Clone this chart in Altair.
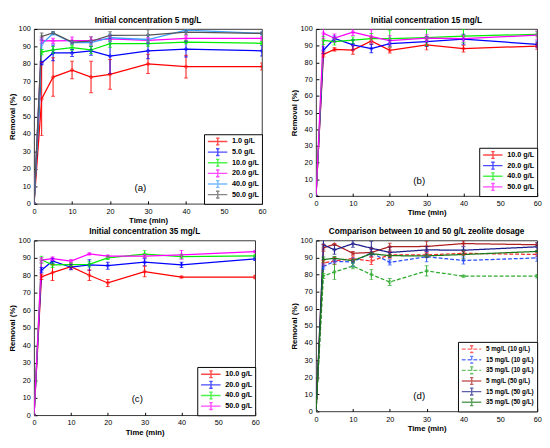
import altair as alt
import pandas as pd

times = [0, 2, 5, 10, 15, 20, 30, 40, 60]

# Panel (a): initial concentration 5 mg/L
a_labels = ["1.0 g/L", "5.0 g/L", "10.0 g/L", "20.0 g/L", "40.0 g/L", "50.0 g/L"]
a_vals = [
    [0, 60, 72.5, 76.5, 72.5, 74, 80, 78.5, 78.5],
    [0, 80.5, 86.3, 86.3, 87.5, 84.5, 87.5, 88.5, 87.5],
    [0, 86.8, 88, 89.4, 88, 91.6, 91.6, 92.5, 91.8],
    [0, 93.3, 93.2, 93.4, 93.5, 94.3, 93.5, 94.6, 94.6],
    [0, 91.2, 97.5, 92.2, 92.2, 95, 94, 99.3, 97.5],
    [0, 95.7, 97.8, 92.5, 93, 96.4, 96.5, 98.2, 97.5],
]
a_errs = [
    [0, 21, 11, 5, 9, 8.5, 5.5, 6.5, 2],
    [0, 1, 4.5, 2, 2.5, 10, 4.5, 4.5, 3],
    [0, 1.5, 2, 1.5, 2, 2, 1.5, 1, 1],
    [0, 1.5, 1.5, 2, 2, 1.5, 1.5, 1.5, 1],
    [0, 3, 1, 1, 1, 2, 2.5, 1, 1],
    [0, 2, 0.5, 1, 2.5, 2, 3, 1.5, 0.5],
]
a_colors = ["#ff0000", "#0000ff", "#00ee00", "#ff00ff", "#3ea0ff", "#555555"]

# Panel (b): initial concentration 15 mg/L
b_labels = ["10.0 g/L", "20.0 g/L", "40.0 g/L", "50.0 g/L"]
b_vals = [
    [0, 84.8, 87.8, 87.4, 92.8, 87.2, 90.5, 88.3, 89.8],
    [0, 87.3, 94.3, 90.5, 88.3, 91.3, 92.5, 93.9, 90.8],
    [0, 93.2, 92.4, 93.3, 94.3, 94.2, 94.9, 95.8, 96.8],
    [0, 97.5, 94.5, 98.1, 95.5, 93, 94.5, 94.3, 96.3],
]
b_errs = [
    [0, 1.5, 1, 2.5, 2, 1.5, 3, 2, 2],
    [0, 2, 1.5, 3, 2.5, 2, 3, 3, 2],
    [0, 2.5, 2, 2, 3, 5, 5, 4, 1.5],
    [0, 3, 2.5, 2, 4, 3, 2, 2, 2.5],
]
b_colors = ["#ff0000", "#0000ff", "#00ee00", "#ff00ff"]

# Panel (c): initial concentration 35 mg/L
c_labels = ["10.0 g/L", "20.0 g/L", "40.0 g/L", "50.0 g/L"]
c_vals = [
    [0, 79.2, 81.6, 85, 80.1, 75.7, 82.2, 79.1, 79.1],
    [0, 83, 88.3, 84.7, 86, 85.6, 87.6, 86.1, 89.5],
    [0, 89, 86, 86.2, 86.3, 90.1, 92.2, 90.8, 91.2],
    [0, 88.8, 89.6, 88.2, 92.3, 91.1, 91, 91.8, 93.6],
]
c_errs = [
    [0, 1.5, 4.5, 1.5, 3, 2, 3, 0.5, 1],
    [0, 1.5, 1.5, 1.5, 3, 2, 2, 1.5, 1],
    [0, 2, 1.5, 1, 1.5, 1, 2, 1, 1],
    [0, 1.5, 1, 1, 0.5, 0.5, 1, 2.5, 0.5],
]
c_colors = ["#ff0000", "#0000ff", "#00ee00", "#ff00ff"]

# Panel (d): comparison between 10 and 50 g/L zeolite dosage
d_labels = ["5 mg/L (10 g/L)", "15 mg/L (10 g/L)", "35 mg/L (10 g/L)",
            "5 mg/L (50 g/L)", "15 mg/L (50 g/L)", "35 mg/L (50 g/L)"]
d_vals = [a_vals[2], b_vals[0], c_vals[0], a_vals[5], b_vals[3], c_vals[3]]
d_errs = [a_errs[2], b_errs[0], c_errs[0], a_errs[5], b_errs[3], c_errs[3]]
d_colors = ["#ff2a2a", "#2a4dff", "#2eaa2e", "#b02020", "#1c1c8c", "#1a7a1a"]
d_dashes = [[4, 2], [4, 2], [4, 2], [1, 0], [1, 0], [1, 0]]

FONT = "Liberation Sans"
# legend glyph: line with an error-bar
SYM = "M-1,0L4.7,0M1.9,-1L1.9,1M1.4,-1L2.4,-1M1.4,1L2.4,1"

X_TICKS = [0, 10, 20, 30, 40, 50, 60]
Y_TICKS = [0, 10, 20, 30, 40, 50, 60, 70, 80, 90, 100]


def build(labels, vals, errs):
    rows = []
    for lab, vs, es in zip(labels, vals, errs):
        for t, v, e in zip(times, vs, es):
            rows.append({"t": t, "v": v, "lo": v - e, "hi": v + e, "s": lab})
    return pd.DataFrame(rows)


def panel(labels, vals, errs, colors, title, tag, w, h, dashes=None, lab_size=7.5,
          row_pad=-3):
    df = build(labels, vals, errs)
    xs = alt.Scale(domain=[0, 60], nice=False)
    ys = alt.Scale(domain=[0, 100], nice=False)
    cs = alt.Scale(domain=labels, range=colors)
    # ticks drawn inward: axis shifted 3px inside the frame, ticks reaching the frame
    xaxis = alt.Axis(values=X_TICKS, tickCount=7, labelOverlap=False, offset=-3,
                     domain=False, labelPadding=4)
    yaxis = alt.Axis(values=Y_TICKS, tickCount=11, labelOverlap=False, offset=-3,
                     domain=False, labelPadding=4)

    def X(f):
        return alt.X(f, type="quantitative", scale=xs, title="Time (min)", axis=xaxis)

    def Y(f):
        return alt.Y(f, type="quantitative", scale=ys, title="Removal (%)", axis=yaxis)

    leg = alt.Legend(
        title=None, orient="bottom-right", symbolType=SYM, symbolSize=50,
        symbolStrokeWidth=1.4, labelFont=FONT, labelFontSize=lab_size,
        labelFontWeight="bold", labelColor="black", strokeColor="black",
        fillColor="white", padding=3, rowPadding=row_pad, offset=0, labelLimit=200,
        labelOffset=17,
    )
    color = alt.Color("s:N", scale=cs, legend=leg, sort=labels)
    base = alt.Chart(df)
    enc_line = dict(x=X("t"), y=Y("v"), color=color, order="t:Q")
    if dashes is not None:
        enc_line["strokeDash"] = alt.StrokeDash(
            "s:N", scale=alt.Scale(domain=labels, range=dashes),
            legend=leg, sort=labels)
    line = base.mark_line(strokeWidth=1.3, clip=True).encode(**enc_line)
    bars = base.mark_rule(strokeWidth=1, clip=True).encode(
        x=X("t"), y=Y("lo"), y2="hi:Q", color=color)
    cap_lo = base.mark_tick(orient="horizontal", size=4, thickness=1, clip=True).encode(
        x=X("t"), y=Y("lo"), color=color)
    cap_hi = base.mark_tick(orient="horizontal", size=4, thickness=1, clip=True).encode(
        x=X("t"), y=Y("hi"), color=color)
    pts = base.mark_point(filled=False, size=10, strokeWidth=0.8, clip=True).encode(
        x=X("t"), y=Y("v"), color=color)
    txt = alt.Chart(pd.DataFrame({"tag": [tag], "t": [28], "v": [9]})).mark_text(
        font=FONT, fontSize=10, align="center", baseline="middle", color="black"
    ).encode(x=X("t"), y=Y("v"), text="tag:N")
    return alt.layer(line, bars, cap_lo, cap_hi, pts, txt).properties(
        width=w, height=h,
        title=alt.Title(title, font=FONT, fontSize=8.5, fontWeight="bold",
                        offset=1, anchor="middle"),
    )


pa = panel(a_labels, a_vals, a_errs, a_colors, "Initial concentration 5 mg/L", "(a)", 236, 181)
pb = panel(b_labels, b_vals, b_errs, b_colors, "Initial concentration 15 mg/L", "(b)", 229, 173)
pc = panel(c_labels, c_vals, c_errs, c_colors, "Initial concentration 35 mg/L", "(c)", 229, 181)
pd_ = panel(d_labels, d_vals, d_errs, d_colors,
            "Comparison between 10 and 50 g/L zeolite dosage", "(d)", 229, 177,
            dashes=d_dashes, lab_size=6.5, row_pad=-4)

chart = alt.concat(pa, pb, pc, pd_, columns=2,
                   spacing=alt.RowColnumber(column=24, row=2))
chart = chart.resolve_scale(
    color="independent", strokeDash="independent"
).configure(
    padding=0, background="white"
).configure_view(
    stroke="black", strokeWidth=0.8
).configure_axis(
    grid=False, domainColor="black", tickColor="black", tickSize=3,
    labelFont=FONT, labelFontSize=7.5, labelColor="black",
    titleFont=FONT, titleFontSize=8, titleFontWeight="bold", titleColor="black",
    titlePadding=2, labelFlush=False, labelOverlap=False,
)

chart.save("out.html", embed_options={"renderer": "svg", "actions": False})
